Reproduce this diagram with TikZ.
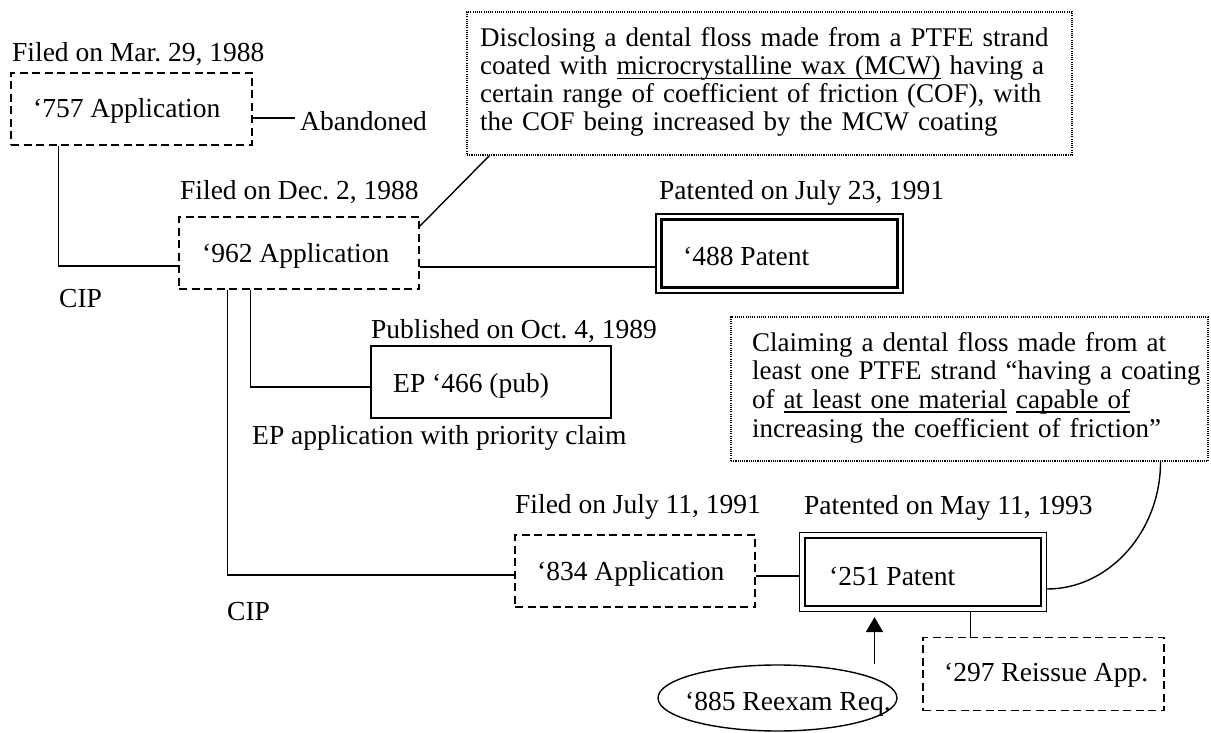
\documentclass[tikz,border=0pt]{standalone}
\usepackage{fontspec}
\setmainfont{Liberation Serif}
\usetikzlibrary{shapes.geometric,arrows.meta}
\newcommand\fs{\fontsize{27.5}{29}\selectfont\frenchspacing}
\newcommand\fca{\fontsize{27}{28}\selectfont\frenchspacing}
\newcommand\fcb{\fontsize{27}{28.7}\selectfont\frenchspacing}
\newcommand\myul[1]{\leavevmode\setbox0=\hbox{#1}\rlap{\rule[-4.3pt]{\wd0}{1.3pt}}\box0\relax}
\begin{document}
\begin{tikzpicture}[x=1pt,y=1pt,
  lbl/.style={anchor=base west,inner sep=0pt,font=\fs},
  dbox/.style={draw,line width=1.4pt,dash pattern=on 8pt off 4.5pt,inner sep=0pt},
  sbox/.style={draw,line width=1.4pt,inner sep=0pt},
  pbox/.style={draw,line width=1.2pt,inner sep=0pt},
  cbox/.style={draw,line width=1.1pt,dash pattern=on 1.1pt off 1.1pt,inner sep=0pt},
  conn/.style={line width=1.4pt}]
\useasboundingbox (0,0) rectangle (1211,-733);
% boxes
\node[dbox,minimum width=241,minimum height=72] (b757) at (131.5,-109) {};
\node[dbox,minimum width=240,minimum height=72] (b962) at (299,-253) {};
\node[pbox,minimum width=247,minimum height=79] (p488) at (779.5,-253.5) {};
\node[sbox,minimum width=240,minimum height=72] (ep) at (491,-382) {};
\node[dbox,minimum width=240,minimum height=72] (b834) at (635,-571) {};
\node[pbox,minimum width=247,minimum height=79] (p251) at (923,-572) {};
\node[dbox,minimum width=241,minimum height=73] (b297) at (1043.5,-674) {};
\node[draw,ellipse,line width=1.4pt,inner sep=0pt,minimum width=239,minimum height=66] (e885) at (777.5,-698) {};
\node[cbox,minimum width=605,minimum height=143] (c1) at (769.5,-83.5) {};
\node[cbox,minimum width=477,minimum height=144] (c2) at (969.5,-389) {};
% inner borders of patent boxes
\draw[line width=2.4pt] ([shift={(6,-6)}]p488.north west) rectangle ([shift={(-6,6)}]p488.south east);
\draw[line width=2.4pt] ([shift={(6,-6)}]p251.north west) rectangle ([shift={(-6,6)}]p251.south east);
% texts
\node[lbl] (d757) at (12,-62) {Filed on Mar. 29, 1988};
\node[lbl] (t757) at (33,-118) {‘757 Application};
\node[lbl] (aband) at (300,-131) {Abandoned};
\node[lbl] (d962) at (180,-200) {Filed on Dec. 2, 1988};
\node[lbl] (t962) at (202,-262) {‘962 Application};
\node[lbl] (d488) at (659,-200) {Patented on July 23, 1991};
\node[lbl] (t488) at (683,-265) {‘488 Patent};
\node[lbl] (cip1) at (59,-307) {CIP};
\node[lbl] (dep) at (371,-338) {Published on Oct. 4, 1989};
\node[lbl] (tep) at (393,-392) {EP ‘466 (pub)};
\node[lbl] (nep) at (252,-444) {EP application with priority claim};
\node[lbl] (d834) at (515,-513) {Filed on July 11, 1991};
\node[lbl] (d251) at (804,-514) {Patented on May 11, 1993};
\node[lbl] (t834) at (537,-580) {‘834 Application};
\node[lbl] (t251) at (829,-585) {‘251 Patent};
\node[lbl] (cip2) at (227,-620) {CIP};
\node[lbl] (t297) at (944,-681.5) {‘297 Reissue App.};
\node[lbl] (t885) at (685,-710) {‘885 Reexam Req.};
\node[lbl,font=\fca,text width=620pt,align=left] (c1t) at (480,-47)
  {Disclosing a dental floss made from a PTFE strand\\
   coated with \myul{microcrystalline wax (MCW)} having a\\
   certain range of coefficient of friction (COF), with\\
   the COF being increased by the MCW coating};
\node[lbl,font=\fcb,text width=460pt,align=left] (c2t) at (752,-351)
  {Claiming a dental floss made from at\\
   least one PTFE strand “having a coating\\
   of \myul{at least one material} \myul{capable of}\\
   increasing the coefficient of friction”};
% connectors
\draw[conn] ([xshift=48pt]b757.south west) |- ([yshift=-13pt]b962.west);
\draw[conn] ([yshift=-9pt]b757.east) -- ([yshift=-9pt,xshift=-5pt]b757.east -| aband.west);
\draw[conn] ([yshift=-10pt]b962.north east) -- ([xshift=23pt]c1.south west);
\draw[conn] ([yshift=-14pt]b962.east) -- ([yshift=-14pt]b962.east -| p488.west);
\draw[conn] ([xshift=49pt]b962.south west) |- ([yshift=-4pt]b834.west);
\draw[conn] ([xshift=72pt]b962.south west) |- ([yshift=-5pt]ep.west);
\draw[conn] ([yshift=-5pt]b834.east) -- ([yshift=-5pt]b834.east -| p251.west);
\draw[conn] ([xshift=47.5pt]p251.south) -- ([xshift=47.5pt]p251.south |- b297.north);
\draw[conn,-{Triangle[length=15pt,width=17pt]}] ([xshift=97pt]e885.north) -- ([xshift=97pt,yshift=-5pt]e885.north |- p251.south);
\draw[conn] ([xshift=-48pt]c2.south east) .. controls +(0,-70) and +(62,0) .. ([yshift=-17pt]p251.east);
\end{tikzpicture}
\end{document}
